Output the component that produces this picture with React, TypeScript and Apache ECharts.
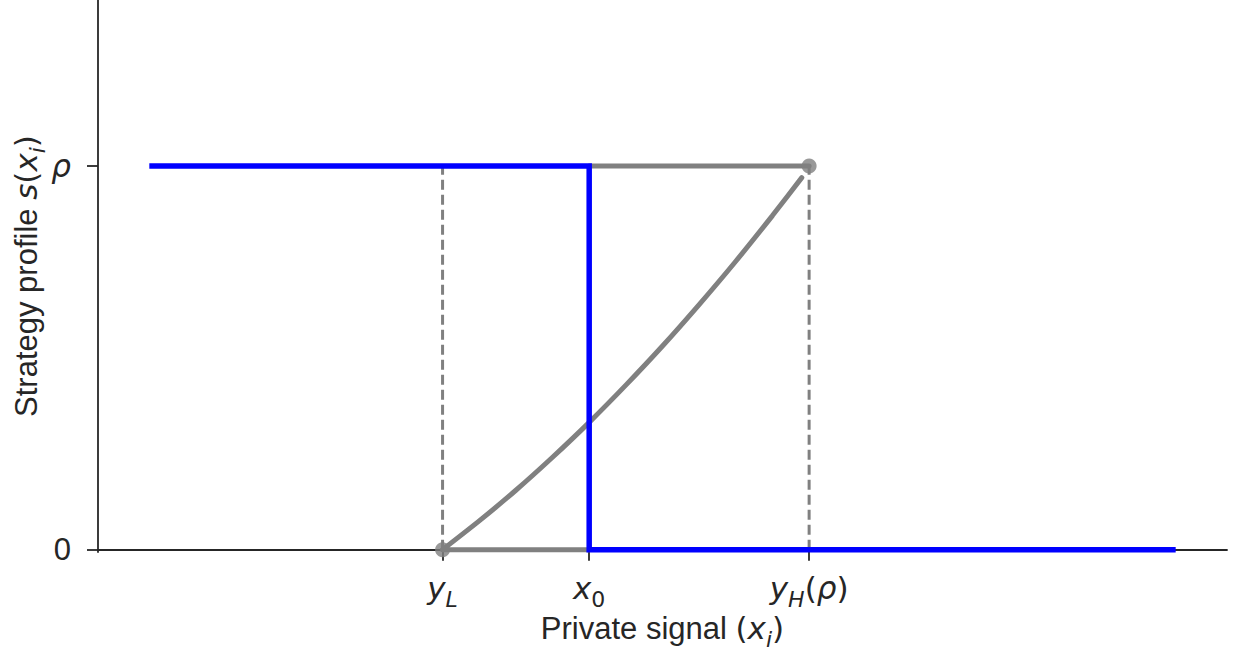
import React, { useEffect, useRef } from "react";
import * as echarts from "echarts";

// Key signal levels on the horizontal axis
const yL = 1.0;
const x0 = 1.4;
const yH = 2.0;
const rho = 1.0;

// Extent of the threshold strategy (blue)
const signalStart = 0.2;
const signalEnd = 3.0;

// Threshold strategy: rho below x0, 0 above
const thresholdX = [signalStart, x0, x0, signalEnd];
const thresholdY = [rho, rho, 0, 0];

// Smooth strategy between yL and yH(rho)
const curveX = [1.0, 1.1, 1.2, 1.3, 1.4, 1.5, 1.6, 1.7, 1.8, 1.9, 1.98];
const curveY = [0.0, 0.075, 0.155, 0.241, 0.332, 0.429, 0.531, 0.639, 0.752, 0.871, 0.97];

// Gray flat pieces and end points
const lowFlatX = [yL, x0];
const lowFlatY = [0, 0];
const highFlatX = [x0, yH];
const highFlatY = [rho, rho];
const dotX = [yL, yH];
const dotY = [0, rho];

// Tick positions and labels
const xTickValues = [yL, x0, yH];
const xTickLabels = [
  "{it|y}{subIt|L}",
  "{it|x}{sub|0}",
  "{it|y}{subIt|H}{m|(}{it|ρ}{m|)}",
];
const yTickValues = [0, rho];
const yTickLabels = ["0", "{it|ρ}"];

const xName = "Private signal {m|(}{it|x}{subIt|i}{m|)}";
const yName = "Strategy profile {it|s}{m|(}{it|x}{subIt|i}{m|)}";

const TEXT = "#262626";
const GRAY = "#808080";
const BLUE = "#0000ff";
const FS = 31;

const rich = {
  it: { fontFamily: "DejaVu Sans", fontStyle: "italic", fontSize: FS, lineHeight: 44, color: TEXT },
  m: { fontFamily: "DejaVu Sans", fontSize: FS, lineHeight: 44, color: TEXT },
  sub: { fontFamily: "DejaVu Sans", fontSize: 22, lineHeight: 22, verticalAlign: "bottom", color: TEXT },
  subIt: { fontFamily: "DejaVu Sans", fontStyle: "italic", fontSize: 22, lineHeight: 22, verticalAlign: "bottom", color: TEXT },
};

const zip = (xs: number[], ys: number[]) => xs.map((x, i) => [x, ys[i]]);

export default function App() {
  const ref = useRef<HTMLDivElement>(null);

  useEffect(() => {
    if (!ref.current) return;
    const chart = echarts.init(ref.current, null, { renderer: "svg" });

    const dashed = (xv: number) => ({
      type: "line",
      data: [[xv, 0], [xv, rho]],
      symbol: "none",
      lineStyle: { color: GRAY, width: 3, type: [10, 5] },
      z: 1,
    });

    chart.setOption({
      animation: false,
      backgroundColor: "#ffffff",
      grid: { left: 98, right: 11, top: 0, bottom: 101, outerBoundsMode: "none" },
      xAxis: {
        type: "value",
        min: signalStart - 0.14,
        max: signalEnd + 0.14,
        splitLine: { show: false },
        axisLine: { show: true, lineStyle: { color: TEXT, width: 1.8 } },
        axisTick: { show: true, customValues: xTickValues, length: 11, lineStyle: { color: TEXT, width: 1.8 } },
        axisLabel: {
          customValues: xTickValues,
          formatter: (v: number) => xTickLabels[xTickValues.indexOf(v)] ?? "",
          margin: 14,
          fontFamily: "DejaVu Sans",
          fontSize: FS,
          lineHeight: 44,
          color: TEXT,
          rich,
        },
        name: xName,
        nameLocation: "middle",
        nameGap: 54,
        nameMoveOverlap: false,
        nameTextStyle: { fontFamily: "Liberation Sans", fontSize: FS, lineHeight: 44, color: TEXT, rich },
      },
      yAxis: {
        type: "value",
        min: -0.006,
        max: 1.433,
        splitLine: { show: false },
        axisLine: { show: true, lineStyle: { color: TEXT, width: 1.8 } },
        axisTick: { show: true, customValues: yTickValues, length: 11, lineStyle: { color: TEXT, width: 1.8 } },
        axisLabel: {
          customValues: yTickValues,
          formatter: (v: number) => yTickLabels[yTickValues.indexOf(v)] ?? "",
          margin: 27,
          fontFamily: "Liberation Sans",
          fontSize: FS,
          color: TEXT,
          rich,
        },
        name: yName,
        nameLocation: "middle",
        nameRotate: 90,
        nameGap: 50,
        nameMoveOverlap: false,
        nameTextStyle: { fontFamily: "Liberation Sans", fontSize: FS, lineHeight: 44, color: TEXT, rich },
      },
      series: [
        dashed(yL),
        dashed(yH),
        {
          type: "line",
          data: zip(lowFlatX, lowFlatY),
          symbol: "none",
          lineStyle: { color: GRAY, width: 5, cap: "round" },
          z: 2,
        },
        {
          type: "line",
          data: zip(highFlatX, highFlatY),
          symbol: "none",
          lineStyle: { color: GRAY, width: 5, cap: "round" },
          z: 2,
        },
        {
          type: "line",
          data: zip(curveX, curveY),
          symbol: "none",
          smooth: 0.2,
          lineStyle: { color: GRAY, width: 5, cap: "round" },
          z: 2,
        },
        {
          type: "scatter",
          data: zip(dotX, dotY),
          symbol: "circle",
          symbolSize: 15,
          itemStyle: { color: GRAY },
          z: 3,
        },
        {
          type: "line",
          data: zip(thresholdX, thresholdY),
          symbol: "none",
          lineStyle: { color: BLUE, width: 5.5, cap: "butt", join: "miter" },
          z: 4,
        },
      ],
    });

    return () => chart.dispose();
  }, []);

  return (
    <div
      ref={ref}
      style={{ position: "fixed", left: 0, top: 0, width: 1238, height: 653, background: "#fff" }}
    />
  );
}
